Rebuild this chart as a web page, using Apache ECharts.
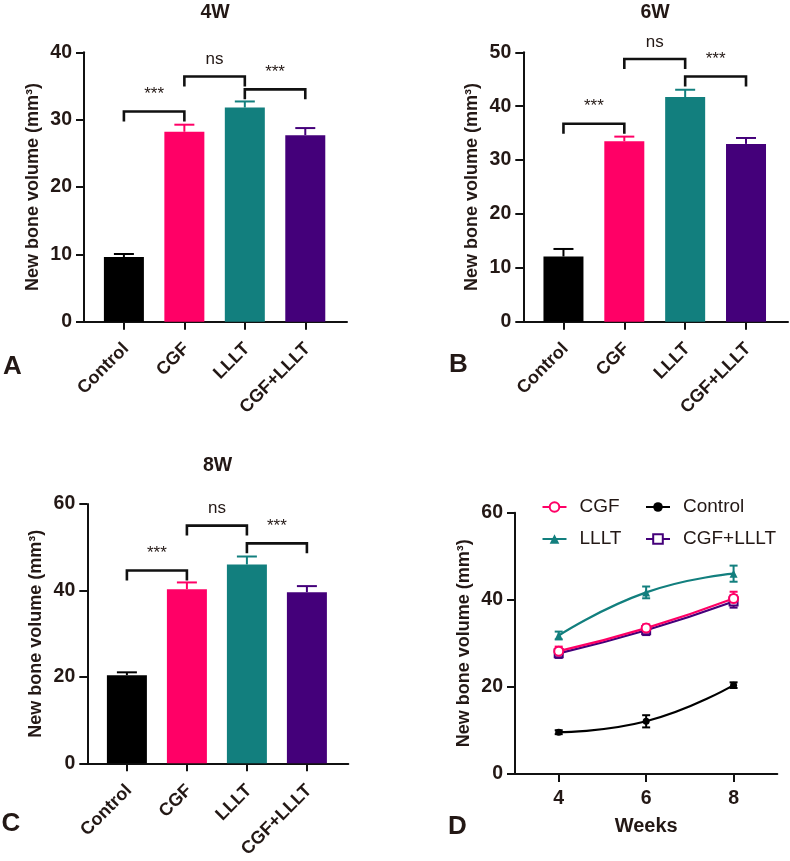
<!DOCTYPE html>
<html><head><meta charset="utf-8">
<script src="https://cdn.jsdelivr.net/npm/echarts@6/dist/echarts.min.js"></script>
<style>html,body{margin:0;padding:0;background:#fff}#c{width:790px;height:861px}</style>
</head><body><div id="c"></div><script>
// ---------- data ----------
const groups = ['Control', 'CGF', 'LLLT', 'CGF+LLLT'];
const weeks = [4, 6, 8];
const panelTitles = ['4W', '6W', '8W'];
const panelLetters = ['A', 'B', 'C', 'D'];
const mean4w = [9.6, 28.2, 31.8, 27.7];
const sem4w = [0.45, 1.05, 0.9, 1.05];
const mean6w = [12.1, 33.5, 41.7, 33.0];
const sem6w = [1.4, 0.85, 1.35, 1.1];
const mean8w = [20.4, 40.3, 46.0, 39.6];
const sem8w = [0.65, 1.55, 1.85, 1.4];
// [fromGroup, toGroup, bracket height (mm3), label]
const sig4w = [[0, 1, 31.2, '***'], [1, 2, 36.4, 'ns'], [2, 3, 34.5, '***']];
const sig6w = [[0, 1, 36.75, '***'], [1, 2, 48.75, 'ns'], [2, 3, 45.5, '***']];
const sig8w = [[0, 1, 44.6, '***'], [1, 2, 55.0, 'ns'], [2, 3, 50.9, '***']];
const yMax = [40, 50, 60, 60];
const yStep = [10, 10, 20, 20];
const yTitle = 'New bone volume (mm³)';
const xTitleD = 'Weeks';

// ---------- style / layout ----------
const FONT = '"Liberation Sans", Arial, Helvetica, sans-serif';
const TXT = '#231815';
const colors = ['#000000', '#FF0066', '#127F7E', '#44007A'];
const grids = [
  { left: 84, top: 52.3, width: 263, height: 269.4 },
  { left: 523.3, top: 52.3, width: 264.7, height: 269.4 },
  { left: 87.3, top: 504, width: 261, height: 259.3 },
  { left: 515, top: 512.7, width: 262.3, height: 261.3 }
];
const titlePos = [{ x: 215, y: 2.7 }, { x: 655, y: 2.7 }, { x: 217.5, y: 456 }];
const letterPos = [{ x: 3, y: 353.5 }, { x: 449, y: 352 }, { x: 1.5, y: 810.5 }, { x: 448, y: 813.5 }];
const labelShift = -0.07; // category label anchor offset (in category units)

const means = [mean4w, mean6w, mean8w];
const sems = [sem4w, sem6w, sem8w];
const sigs = [sig4w, sig6w, sig8w];

const axisLineStyle = { color: '#111', width: 2 };

const option = {
  animation: false,
  backgroundColor: '#fff',
  textStyle: { fontFamily: FONT },
  title: [],
  grid: grids.map(g => Object.assign({ containLabel: false }, g)),
  xAxis: [],
  yAxis: [],
  legend: [],
  series: []
};

panelTitles.forEach((t, i) => {
  option.title.push({ text: t, left: titlePos[i].x, top: titlePos[i].y, textAlign: 'center', padding: 0,
    textStyle: { fontFamily: FONT, fontSize: 19.5, fontWeight: 'bold', color: TXT } });
});
panelLetters.forEach((t, i) => {
  option.title.push({ text: t, left: letterPos[i].x, top: letterPos[i].y, padding: 0,
    textStyle: { fontFamily: FONT, fontSize: 26, fontWeight: 'bold', color: TXT } });
});

function yAxisFor(i) {
  return {
    gridIndex: i, type: 'value', min: 0, max: yMax[i], interval: yStep[i],
    name: yTitle, nameLocation: 'middle', nameGap: 42,
    nameTextStyle: { fontFamily: FONT, fontSize: 18, fontWeight: 'bold', color: TXT },
    axisLine: { show: true, onZero: false, lineStyle: axisLineStyle },
    axisTick: { show: true, length: 8, lineStyle: axisLineStyle },
    axisLabel: { fontFamily: FONT, fontSize: 19.5, fontWeight: 'bold', color: TXT, margin: 12 },
    splitLine: { show: false }
  };
}

function errBarRender(capW, both) {
  return function (params, api) {
    const x = api.value(0), lo = api.value(1), hi = api.value(2), g = api.value(3);
    const p1 = api.coord([x, lo]), p2 = api.coord([x, hi]);
    const c = colors[g];
    const st = { stroke: c, lineWidth: 2 };
    const ch = [
      { type: 'line', shape: { x1: p1[0], y1: p1[1], x2: p2[0], y2: p2[1] }, style: st },
      { type: 'line', shape: { x1: p2[0] - capW / 2, y1: p2[1], x2: p2[0] + capW / 2, y2: p2[1] }, style: st }
    ];
    if (both) ch.push({ type: 'line', shape: { x1: p1[0] - capW / 2, y1: p1[1], x2: p1[0] + capW / 2, y2: p1[1] }, style: st });
    return { type: 'group', children: ch };
  };
}

// bar panels
for (let i = 0; i < 3; i++) {
  option.xAxis.push({
    gridIndex: i, type: 'value', min: -0.66, max: 3.69,
    axisLine: { show: true, lineStyle: axisLineStyle },
    axisTick: { show: true, length: 8, lineStyle: axisLineStyle, customValues: [0, 1, 2, 3] },
    axisLabel: { customValues: groups.map((_, g) => g + labelShift), formatter: v => groups[Math.round(v)] || '',
      rotate: 45, align: 'right', verticalAlign: 'top', margin: 18,
      fontFamily: FONT, fontSize: 18, fontWeight: 'bold', color: TXT },
    splitLine: { show: false }
  });
  option.yAxis.push(yAxisFor(i));
  const m = means[i], s = sems[i], sg = sigs[i];
  option.series.push({
    type: 'bar', xAxisIndex: i, yAxisIndex: i, barWidth: 40, silent: true,
    data: m.map((v, g) => ({ value: [g, v], itemStyle: { color: colors[g] } }))
  });
  option.series.push({
    type: 'custom', xAxisIndex: i, yAxisIndex: i, silent: true, z: 3,
    renderItem: errBarRender(20, false),
    data: m.map((v, g) => [g, v, v + s[g], g])
  });
  option.series.push({
    type: 'custom', xAxisIndex: i, yAxisIndex: i, silent: true, z: 4, clip: false,
    encode: { x: [0, 1], y: 2 },
    renderItem: (function (sig) {
      return function (params, api) {
        const a = api.coord([api.value(0), api.value(2)]);
        const b = api.coord([api.value(1), api.value(2)]);
        const leg = 10;
        return { type: 'group', children: [
          { type: 'polyline', shape: { points: [[a[0], a[1] + leg], [a[0], a[1]], [b[0], b[1]], [b[0], b[1] + leg]] },
            style: { stroke: '#111', lineWidth: 2.6, fill: null } },
          { type: 'text', x: (a[0] + b[0]) / 2, y: a[1] - 17,
            style: { text: sig[params.dataIndex][3], fill: TXT, fontFamily: FONT, fontSize: 17,
              align: 'center', verticalAlign: 'middle' } }
        ] };
      };
    })(sg),
    data: sg.map(r => [r[0], r[1], r[2]])
  });
}

// line panel D
option.xAxis.push({
  gridIndex: 3, type: 'value', min: 3, max: 9,
  name: xTitleD, nameLocation: 'middle', nameGap: 42,
  nameTextStyle: { fontFamily: FONT, fontSize: 20, fontWeight: 'bold', color: TXT },
  axisLine: { show: true, onZero: false, lineStyle: axisLineStyle },
  axisTick: { show: true, length: 8, lineStyle: axisLineStyle, customValues: weeks },
  axisLabel: { customValues: weeks, fontFamily: FONT, fontSize: 19.5, fontWeight: 'bold', color: TXT, margin: 15 },
  splitLine: { show: false }
});
option.yAxis.push(yAxisFor(3));

const lineStyleDefs = [
  { symbol: 'circle', size: 7, open: false },
  { symbol: 'circle', size: 9, open: true },
  { symbol: 'triangle', size: 8, open: false },
  { symbol: 'rect', size: 8, open: true }
];
const drawOrder = [0, 2, 3, 1];
drawOrder.forEach(g => {
  option.series.push({
    type: 'custom', xAxisIndex: 3, yAxisIndex: 3, silent: true, z: 2,
    renderItem: errBarRender(8, true),
    data: weeks.map((w, k) => [w, means[k][g] - sems[k][g], means[k][g] + sems[k][g], g])
  });
});
drawOrder.forEach((g, n) => {
  const d = lineStyleDefs[g];
  option.series.push({
    name: groups[g], type: 'line', xAxisIndex: 3, yAxisIndex: 3, smooth: 0.5, silent: true,
    z: 5 + n,
    color: colors[g],
    symbol: d.symbol, symbolSize: d.size, showSymbol: true,
    lineStyle: { color: colors[g], width: 2.2 },
    itemStyle: d.open ? { color: '#fff', borderColor: colors[g], borderWidth: 2 } : { color: colors[g] },
    data: weeks.map((w, k) => [w, means[k][g]])
  });
});

const legendCommon = {
  orient: 'vertical', padding: 0, itemGap: 13, itemWidth: 24, itemHeight: 12,
  selectedMode: false,
  textStyle: { fontFamily: FONT, fontSize: 19, color: TXT, padding: [0, 0, 0, 8] }
};
option.legend.push(Object.assign({ left: 541.5, top: 497.5, data: ['CGF', 'LLLT'] }, legendCommon));
option.legend.push(Object.assign({ left: 645, top: 497.5, data: ['Control', 'CGF+LLLT'] }, legendCommon));

const chart = echarts.init(document.getElementById('c'), null, { renderer: 'canvas' });
chart.setOption(option);
</script></body></html>
